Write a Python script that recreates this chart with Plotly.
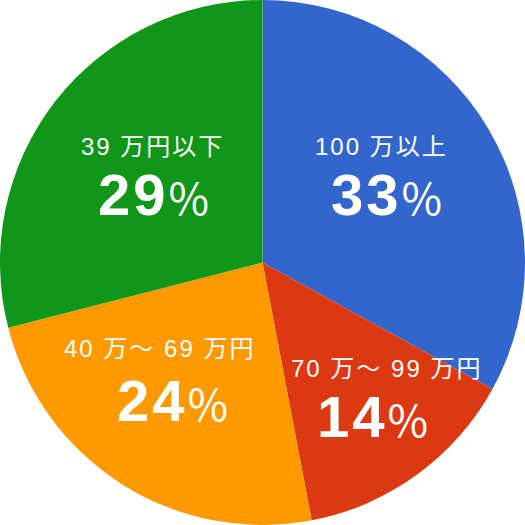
import plotly.graph_objects as go

labels = ['100 万以上', '70 万～ 99 万円', '40 万～ 69 万円', '39 万円以下']
values = [33, 14, 24, 29]
colors = ['#3366CC', '#DC3912', '#FF9900', '#109618']

# label centres in pixels (small line, big line)
lab_xy = [(381, 146), (386, 368), (159, 348), (152, 146)]
pct_xy = [(386, 195), (372, 417), (172, 401), (153, 195)]

W = H = 525
font = 'Liberation Sans, Noto Sans CJK JP, sans-serif'

fig = go.Figure(go.Pie(
    labels=labels, values=values, sort=False, direction='clockwise', rotation=0,
    marker=dict(colors=colors, line=dict(width=0)),
    textinfo='none', hoverinfo='label+percent', showlegend=False,
    domain=dict(x=[0, 1], y=[0, 1]),
))

for lab, v, (lx, ly), (px_, py_) in zip(labels, values, lab_xy, pct_xy):
    fig.add_annotation(x=lx / W, y=1 - ly / H, xref='paper', yref='paper',
                       xanchor='center', yanchor='middle',
                       text='<span style="letter-spacing:2px">%s</span>' % lab,
                       showarrow=False,
                       font=dict(family=font, size=24, color='white'))
    fig.add_annotation(x=px_ / W, y=1 - py_ / H, xref='paper', yref='paper',
                       xanchor='center', yanchor='middle',
                       text='<span style="letter-spacing:3px"><b>%d</b></span>'
                            '<span style="font-family:Noto Sans CJK JP;font-size:44px">%%</span>' % v,
                       showarrow=False,
                       font=dict(family=font, size=58, color='white'))

fig.update_layout(width=W, height=H, margin=dict(l=0, r=0, t=0, b=0),
                  paper_bgcolor='white', plot_bgcolor='white')
fig.write_html('out.html', config={'displayModeBar': False},
               post_script="document.body.style.margin='0';document.body.style.overflow='hidden';")
